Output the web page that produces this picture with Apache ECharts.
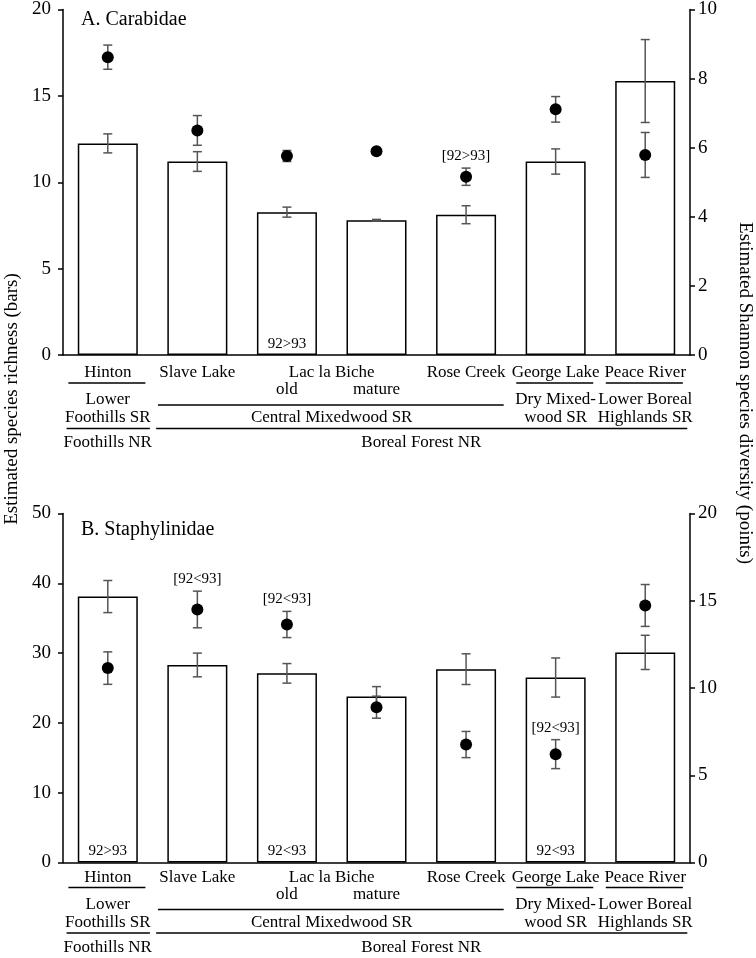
<!DOCTYPE html>
<html>
<head>
<meta charset="utf-8">
<script src="https://cdn.jsdelivr.net/npm/echarts@6/dist/echarts.min.js"></script>
<style>html,body{margin:0;padding:0;background:#fff;}#c{width:756px;height:958px;}</style>
</head>
<body>
<div id="c"></div>
<script>
// ---- data ----
const categories = ['Hinton', 'Slave Lake', 'Lac la Biche old', 'Lac la Biche mature', 'Rose Creek', 'George Lake', 'Peace River'];
const carabRichness = [12.25, 11.2, 8.27, 7.8, 8.12, 11.2, 15.86];
const carabRichnessErr = [0.55, 0.57, 0.29, 0.05, 0.52, 0.73, 2.4];
const carabDiversity = [8.62, 6.5, 5.76, 5.9, 5.16, 7.11, 5.79];
const carabDiversityErr = [0.35, 0.43, 0.16, 0.05, 0.25, 0.37, 0.65];
const staphRichness = [38.1, 28.3, 27.1, 23.8, 27.7, 26.5, 30.1];
const staphRichnessErr = [2.3, 1.7, 1.4, 1.4, 2.2, 2.8, 2.45];
const staphDiversity = [11.14, 14.5, 13.64, 8.9, 6.76, 6.21, 14.73];
const staphDiversityErr = [0.93, 1.05, 0.75, 0.63, 0.75, 0.83, 1.2];
const leftTicksA = [0, 20, 5];   // min, max, interval
const rightTicksA = [0, 10, 2];
const leftTicksB = [0, 50, 10];
const rightTicksB = [0, 20, 5];
const carabBaseNotes = [[2, '92>93']];
const carabPointNotes = [[4, '[92>93]']];
const staphBaseNotes = [[0, '92>93'], [2, '92<93'], [5, '92<93']];
const staphPointNotes = [[1, '[92<93]'], [2, '[92<93]'], [5, '[92<93]']];
const siteNames = [['Hinton', 0], ['Slave Lake', 1], ['Lac la Biche', 2.5], ['Rose Creek', 4], ['George Lake', 5], ['Peace River', 6]];
const standAges = [['old', 2], ['mature', 3]];
const subregions = [['Lower\nFoothills SR', 0, 0], ['Central Mixedwood SR', 1, 4], ['Dry Mixed-\nwood SR', 5, 5], ['Lower Boreal\nHighlands SR', 6, 6]];
const naturalRegions = [['Foothills NR', 0, 0], ['Boreal Forest NR', 1, 6]];
const panelTitles = ['A. Carabidae', 'B. Staphylinidae'];
const leftTitle = 'Estimated species richness (bars)';
const rightTitle = 'Estimated Shannon species diversity (points)';

// ---- chart ----
const FONT = "'Liberation Serif', 'Times New Roman', Times, serif";
const chart = echarts.init(document.getElementById('c'));

function errRender(params, api) {
  const x = api.value(0), v = api.value(1), e = api.value(2);
  const t = api.coord([x, v + e]), b = api.coord([x, v - e]);
  const cap = 4.5;
  const st = { stroke: '#555', lineWidth: 1.5 };
  return { type: 'group', children: [
    { type: 'line', shape: { x1: t[0], y1: t[1], x2: b[0], y2: b[1] }, style: st },
    { type: 'line', shape: { x1: t[0] - cap, y1: t[1], x2: t[0] + cap, y2: t[1] }, style: st },
    { type: 'line', shape: { x1: b[0] - cap, y1: b[1], x2: b[0] + cap, y2: b[1] }, style: st }
  ]};
}

function txt(x, y, s, size, align) {
  return { type: 'text', x: x, y: y, style: { text: s, fontFamily: FONT, fontSize: size, fill: '#000', align: align || 'center', verticalAlign: 'middle', lineHeight: 18 } };
}
function hline(x1, x2, y) {
  return { type: 'line', shape: { x1: x1, y1: y, x2: x2, y2: y }, style: { stroke: '#000', lineWidth: 1.5 } };
}

function makeLabelRender(shift) {
  return function (params, api) {
    const p0 = api.coord([0, 0]);
    const band = api.size([1, 0])[0];
    const X = p => p0[0] + p * band;
    const base = p0[1] + shift;
    const ch = [];
    siteNames.forEach(([t, p]) => ch.push(txt(X(p), base + 18, t, 17)));
    standAges.forEach(([t, p]) => ch.push(txt(X(p), base + 35, t, 17)));
    subregions.forEach(([t, a, b]) => {
      const multi = a !== b;
      ch.push(hline(X(a - 0.44), X(b + 0.42), base + (multi ? 50 : 28)));
      const twoLine = t.indexOf('\n') >= 0;
      ch.push(txt(X((a + b) / 2), base + (twoLine ? 54 : 63), t, 17));
    });
    naturalRegions.forEach(([t, a, b]) => {
      ch.push(hline(X(a - 0.46), X(b + 0.47), base + 73.5));
      ch.push(txt(X((a + b) / 2), base + 88, t, 17));
    });
    return { type: 'group', children: ch };
  };
}

function baseNoteRender(notes) {
  return function (params, api) {
    const ch = notes.map(([c, t]) => {
      const p = api.coord([c, 0]);
      return txt(p[0], p[1] - 11, t, 15);
    });
    return { type: 'group', children: ch };
  };
}
function pointNoteRender(notes, vals, errs) {
  return function (params, api) {
    const ch = notes.map(([c, t]) => {
      const p = api.coord([c, vals[c] + errs[c]]);
      return txt(p[0], p[1] - 12, t, 15);
    });
    return { type: 'group', children: ch };
  };
}

function yAx(grid, ticks, pos, margin) {
  return {
    type: 'value', gridIndex: grid, position: pos, min: ticks[0], max: ticks[1], interval: ticks[2],
    axisLine: { show: true, lineStyle: { color: '#000', width: 1.5 } },
    axisTick: { show: true, inside: false, length: 5, lineStyle: { color: '#000', width: 1.5 } },
    axisLabel: { color: '#000', fontFamily: FONT, fontSize: 19, margin: margin },
    splitLine: { show: false }
  };
}
function xAx(grid) {
  return {
    type: 'category', gridIndex: grid, data: categories,
    axisLine: { show: true, lineStyle: { color: '#000', width: 1.5 } },
    axisTick: { show: false }, axisLabel: { show: false }, splitLine: { show: false }
  };
}

function panelSeries(gi, rich, richErr, div, divErr, baseNotes, pointNotes, shift) {
  const xi = gi, yl = gi * 2, yr = gi * 2 + 1;
  return [
    { type: 'bar', xAxisIndex: xi, yAxisIndex: yl, data: rich, barWidth: '67%',
      itemStyle: { color: '#fff', borderColor: '#000', borderWidth: 1.5 }, z: 2, silent: true },
    { type: 'custom', xAxisIndex: xi, yAxisIndex: yl, renderItem: errRender,
      data: rich.map((v, i) => [i, v, richErr[i]]), encode: { x: 0, y: 1 }, z: 3, silent: true },
    { type: 'custom', xAxisIndex: xi, yAxisIndex: yr, renderItem: errRender,
      data: div.map((v, i) => [i, v, divErr[i]]), encode: { x: 0, y: 1 }, z: 4, silent: true },
    { type: 'scatter', xAxisIndex: xi, yAxisIndex: yr, data: div, symbol: 'circle', symbolSize: 12,
      itemStyle: { color: '#000', opacity: 1 }, z: 5, silent: true },
    { type: 'custom', xAxisIndex: xi, yAxisIndex: yl, renderItem: baseNoteRender(baseNotes),
      data: [[0, 0]], z: 6, silent: true },
    { type: 'custom', xAxisIndex: xi, yAxisIndex: yr, renderItem: pointNoteRender(pointNotes, div, divErr),
      data: [[0, 0]], z: 6, silent: true },
    { type: 'custom', xAxisIndex: xi, yAxisIndex: yl, renderItem: makeLabelRender(shift),
      data: [[0, 0]], z: 6, silent: true }
  ];
}

const option = {
  animation: false,
  backgroundColor: '#fff',
  grid: [
    { left: 63, width: 627, top: 6, height: 349 },
    { left: 63, width: 627, top: 513.5, height: 349 }
  ],
  xAxis: [xAx(0), xAx(1)],
  yAxis: [
    yAx(0, leftTicksA, 'left', 12), yAx(0, rightTicksA, 'right', 8),
    yAx(1, leftTicksB, 'left', 12), yAx(1, rightTicksB, 'right', 8)
  ],
  series: [].concat(
    panelSeries(0, carabRichness, carabRichnessErr, carabDiversity, carabDiversityErr, carabBaseNotes, carabPointNotes, 0),
    panelSeries(1, staphRichness, staphRichnessErr, staphDiversity, staphDiversityErr, staphBaseNotes, staphPointNotes, -3)
  ),
  graphic: [
    { type: 'text', left: 81, top: 10, style: { text: panelTitles[0], fontFamily: FONT, fontSize: 20, fill: '#000' } },
    { type: 'text', left: 81, top: 520, style: { text: panelTitles[1], fontFamily: FONT, fontSize: 20, fill: '#000' } },
    { type: 'text', x: 12, y: 399, rotation: Math.PI / 2,
      style: { text: leftTitle, fontFamily: FONT, fontSize: 19, fill: '#000', align: 'center', verticalAlign: 'middle' } },
    { type: 'text', x: 745, y: 393, rotation: -Math.PI / 2,
      style: { text: rightTitle, fontFamily: FONT, fontSize: 19, fill: '#000', align: 'center', verticalAlign: 'middle' } }
  ]
};
chart.setOption(option);
</script>
</body>
</html>
